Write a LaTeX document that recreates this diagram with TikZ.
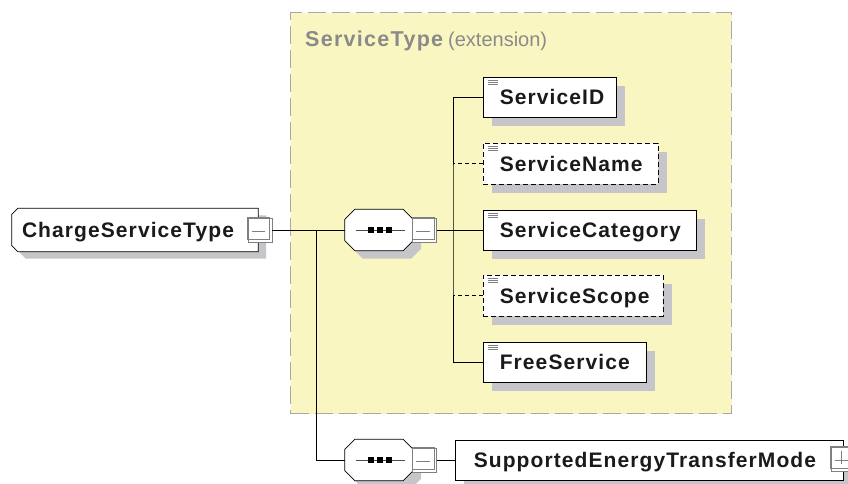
\documentclass[tikz,border=0pt]{standalone}
\usepackage{fontspec}
\setmainfont{Liberation Sans}
\newfontfamily\lblfont[LetterSpace=5.2]{Liberation Sans}
\newfontfamily\ttlfont[LetterSpace=6]{Liberation Sans}
\usetikzlibrary{calc,shadows}
\definecolor{extyellow}{HTML}{FAF6C2}
\definecolor{extborder}{HTML}{A8A8A8}
\definecolor{shadowgray}{HTML}{C6C6CA}
\definecolor{titlegray}{HTML}{8A8A8A}
\definecolor{pmgray}{HTML}{808080}
\definecolor{inkblack}{HTML}{1A1A1A}

\tikzset{
  conn/.style={draw=black, line width=0.8pt},
  optline/.style={dash pattern=on 4pt off 3pt},
  shadowed/.style={drop shadow={shadow xshift=9pt, shadow yshift=-9pt, fill=shadowgray, opacity=1}},
  elembox/.style={rectangle, draw=black, fill=white, line width=0.8pt, inner sep=0pt, shadowed},
  optbox/.style={elembox, dash pattern=on 5pt off 3pt},
  frame/.style={rectangle, inner sep=0pt, draw=none},
  lbl/.style={font=\lblfont\bfseries\fontsize{21}{24}\selectfont, text=inkblack, inner sep=0pt, anchor=base west},
  iconline/.style={draw=pmgray, line width=0.6pt},
  pmframe/.style={rectangle, draw=pmgray, fill=white, line width=0.7pt, inner sep=0pt, minimum width=24pt, minimum height=24pt},
  pmline/.style={draw=pmgray, line width=0.8pt},
  extbox/.style={rectangle, fill=extyellow, draw=extborder, line width=1.1pt, dash pattern=on 18pt off 6pt, inner sep=0pt},
}

% element box: name, x1, y1, x2, y2, style, text
\newcommand{\xelem}[7]{%
  \node[#6, minimum width={#4-#2}, minimum height={#5-#3}] (#1) at ({(#2+#4)/2},{(#3+#5)/2}) {};
  \node[lbl] (#1-t) at ([xshift=17pt,yshift=-7.5pt]#1.west) {#7};
  \draw[iconline] ([xshift=5pt,yshift=-3.5pt]#1.north west) -- ++(10,0);
  \draw[iconline] ([xshift=5pt,yshift=-5.5pt]#1.north west) -- ++(10,0);
  \draw[iconline] ([xshift=5pt,yshift=-7.5pt]#1.north west) -- ++(10,0);
}
% plus/minus box: name, cx, cy, plus?(1/0)
\newcommand{\xpm}[4]{%
  \node[pmframe] (#1) at (#2,#3) {};
  \draw[pmgray, line width=0.7pt] (#1.north west) rectangle ([xshift=-3pt,yshift=3pt]#1.south east);
  \draw[pmline] ([xshift=4pt,yshift=-1.5pt]#1.west) -- ([xshift=-7pt,yshift=-1.5pt]#1.east);
  \ifnum#4=1
    \draw[pmline] ([xshift=-1.5pt,yshift=-4pt]#1.north) -- ([xshift=-1.5pt,yshift=7pt]#1.south);
  \fi
}
% octagon path from a frame node with chamfer c
\newcommand{\octpath}[2]{($(#1.north west)+(#2,0)$) -- ($(#1.north east)+(-#2,0)$) -- ($(#1.north east)+(0,#2)$) -- ($(#1.south east)+(0,-#2)$) -- ($(#1.south east)+(-#2,0)$) -- ($(#1.south west)+(#2,0)$) -- ($(#1.south west)+(0,-#2)$) -- ($(#1.north west)+(0,#2)$) -- cycle}
% sequence compositor: name, cx, cy
\newcommand{\xseq}[3]{%
  \node[frame, minimum width=68pt, minimum height=41pt] (#1) at (#2,#3) {};
  \begin{scope}[transform canvas={shift={(8pt,-8pt)}}]
    \fill[shadowgray] \octpath{#1}{10};
  \end{scope}
  \draw[fill=white, line width=0.8pt] \octpath{#1}{10};
  \draw[draw=black!70, line width=0.7pt] ([xshift=11pt]#1.west) -- ([xshift=-8pt]#1.east);
  \foreach \dx in {-8,1,10} {\fill[black] ([xshift=\dx pt]#1.center) ++(-3.2,-3.2) rectangle ++(6.4,6.4);}
  \xpm{#1pm}{#2+45.5}{#3}{0}
}
\newcommand{\cstpath}{($(cst.north west)+(6,0)$) -- (cst.north east) -- (cst.south east) -- ($(cst.south west)+(6,0)$) -- ($(cst.south west)+(0,-6)$) -- ($(cst.north west)+(0,6)$) -- cycle}

\begin{document}
\begin{tikzpicture}[x=1pt,y=-1pt]
\useasboundingbox (0,0) rectangle (848,483);
\fill[white] (0,0) rectangle (848,483);

% extension container
\node[extbox, minimum width=441pt, minimum height=401pt, anchor=north west] (ext) at (290,12) {};
\node[inner sep=0pt, anchor=base west, text=titlegray] (exttitle) at (305,46.5)
  {{\ttlfont\bfseries\fontsize{21.5}{24}\selectfont ServiceType}\hspace{5pt}{\fontsize{20}{24}\selectfont(extension)}};

% root element
\node[frame, minimum width=246pt, minimum height=43pt] (cst) at (135,230) {};
\begin{scope}[transform canvas={shift={(8pt,-7pt)}}]
  \fill[shadowgray] \cstpath;
\end{scope}
\draw[fill=white, line width=0.8pt] \cstpath;
\node[lbl] (cst-t) at ([xshift=10pt,yshift=-7.5pt]cst.west) {ChargeServiceType};
\xpm{cstpm}{260}{230}{0}

% sequences
\xseq{seqa}{379}{230}
\xseq{seqb}{379}{460}

% children of the extension
\xelem{sid}{483}{77}{616}{117}{elembox}{ServiceID}
\xelem{sname}{483}{143}{658}{184}{optbox}{ServiceName}
\xelem{scat}{483}{210}{696}{250}{elembox}{ServiceCategory}
\xelem{sscope}{483}{275}{663}{316}{optbox}{ServiceScope}
\xelem{sfree}{483}{342}{646}{382}{elembox}{FreeService}

% last element
\node[elembox, minimum width=388pt, minimum height=40pt] (setm) at (649,460) {};
\node[lbl] (setm-t) at ([xshift=19pt,yshift=-7.5pt]setm.west) {SupportedEnergyTransferMode};
\xpm{setmpm}{843}{459}{1}

% connectors
\draw[conn] (cstpm.east) -- (seqa.west);
\coordinate (b1) at (316,230);
\draw[conn] (b1) |- (seqb.west);
\draw[conn] (seqapm.east) -- (scat.west);
\coordinate (b2) at (453,230);
\draw[conn] (sid.west) -| (b2) |- (sfree.west);
\draw[conn, optline] (sname.west) -- (sname.west -| b2);
\draw[conn, optline] (sscope.west) -- (sscope.west -| b2);
\draw[conn] (seqbpm.east) -- (setm.west);
\end{tikzpicture}
\end{document}
